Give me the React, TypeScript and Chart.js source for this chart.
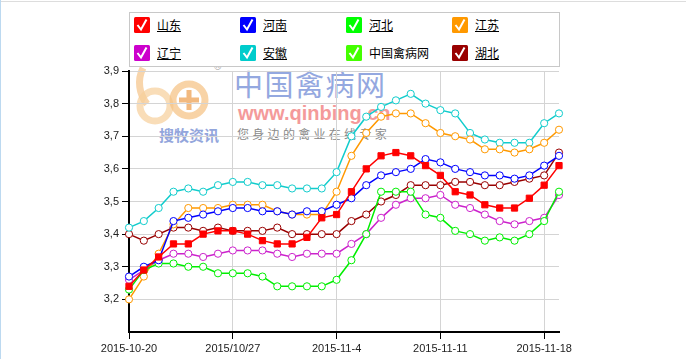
import React, { useEffect, useRef } from 'react';
import { Chart, registerables } from 'chart.js';
Chart.register(...registerables);

const categories = [
  '2015-10-20', '2015-10-21', '2015-10-22', '2015-10-23', '2015-10-24', '2015-10-25', '2015-10-26', '2015/10/27',
  '2015-10-28', '2015-10-29', '2015-10-30', '2015-10-31', '2015-11-2', '2015-11-3', '2015-11-4',
  '2015-11-5', '2015-11-6', '2015-11-7', '2015-11-8', '2015-11-9', '2015-11-10', '2015-11-11',
  '2015-11-12', '2015-11-13', '2015-11-14', '2015-11-15', '2015-11-16', '2015-11-17', '2015-11-18', '2015-11-19',
];
const labelStep = 7;

const shandong = [3.24, 3.29, 3.33, 3.37, 3.37, 3.40, 3.41, 3.41, 3.40, 3.38, 3.37, 3.37, 3.39, 3.45, 3.46, 3.53, 3.60, 3.64, 3.65, 3.64, 3.61, 3.58, 3.53, 3.52, 3.49, 3.48, 3.48, 3.51, 3.55, 3.61];
const henan = [3.27, 3.30, 3.32, 3.44, 3.45, 3.46, 3.47, 3.48, 3.48, 3.47, 3.47, 3.46, 3.47, 3.47, 3.49, 3.51, 3.55, 3.58, 3.59, 3.60, 3.63, 3.62, 3.60, 3.59, 3.58, 3.58, 3.57, 3.58, 3.61, 3.64];
const hebei = [3.23, 3.29, 3.31, 3.31, 3.30, 3.30, 3.28, 3.28, 3.28, 3.27, 3.24, 3.24, 3.24, 3.24, 3.26, 3.32, 3.40, 3.53, 3.53, 3.53, 3.46, 3.45, 3.41, 3.40, 3.38, 3.39, 3.38, 3.40, 3.44, 3.53];
const jiangsu = [3.20, 3.27, 3.34, 3.43, 3.48, 3.48, 3.48, 3.49, 3.49, 3.49, 3.47, 3.46, 3.46, 3.46, 3.53, 3.64, 3.71, 3.76, 3.77, 3.77, 3.74, 3.71, 3.70, 3.69, 3.66, 3.66, 3.65, 3.66, 3.68, 3.72];
const liaoning = [3.26, 3.29, 3.32, 3.34, 3.34, 3.33, 3.34, 3.35, 3.35, 3.35, 3.34, 3.33, 3.34, 3.34, 3.34, 3.37, 3.40, 3.45, 3.49, 3.51, 3.51, 3.52, 3.49, 3.48, 3.46, 3.44, 3.43, 3.44, 3.45, 3.52];
const anhui = [3.42, 3.44, 3.48, 3.53, 3.54, 3.53, 3.55, 3.56, 3.56, 3.55, 3.55, 3.54, 3.54, 3.54, 3.59, 3.70, 3.76, 3.79, 3.81, 3.83, 3.80, 3.78, 3.77, 3.71, 3.69, 3.68, 3.68, 3.68, 3.74, 3.77];
const qinbingwang: number[] = [];
const hubei = [3.40, 3.38, 3.40, 3.42, 3.42, 3.41, 3.42, 3.41, 3.41, 3.41, 3.42, 3.40, 3.40, 3.40, 3.40, 3.44, 3.46, 3.50, 3.52, 3.55, 3.55, 3.55, 3.56, 3.56, 3.55, 3.55, 3.56, 3.57, 3.58, 3.65];

const yMin = 3.1;
const yMax = 3.9;
const yStep = 0.1;

const series = [
  { name: '山东', data: shandong, color: '#ff0000', square: true },
  { name: '河南', data: henan, color: '#0000ff', square: false },
  { name: '河北', data: hebei, color: '#00ee00', square: false },
  { name: '江苏', data: jiangsu, color: '#ff9900', square: false },
  { name: '辽宁', data: liaoning, color: '#cc22cc', square: false },
  { name: '安徽', data: anhui, color: '#11cccc', square: false },
  { name: '中国禽病网', data: qinbingwang, color: '#44ff00', square: false },
  { name: '湖北', data: hubei, color: '#990000', square: false },
];
const legendColors = ['#ff0000', '#0000ff', '#00ff00', '#ff9900', '#cc00cc', '#00cccc', '#44ff00', '#990000'];

const tickFont = { family: '"Liberation Sans", Arial, sans-serif', size: 11 };

function CheckIcon({ color }: { color: string }) {
  return (
    <svg width="16" height="16" viewBox="0 0 16 16" style={{ display: 'block' }}>
      <rect x="0" y="0" width="16" height="16" rx="1.5" fill={color} />
      <path d="M3.5 8 L7 12.5 L12.5 2.5" stroke="#fff" strokeWidth="2" fill="none" />
    </svg>
  );
}

export default function App() {
  const ref = useRef<HTMLCanvasElement>(null);

  useEffect(() => {
    if (!ref.current) return;
    const chart = new Chart(ref.current, {
      type: 'line',
      data: {
        labels: categories,
        datasets: series.map((s) => ({
          label: s.name,
          data: s.data,
          borderColor: s.color,
          backgroundColor: s.square ? s.color : '#ffffff',
          pointBackgroundColor: s.square ? s.color : '#ffffff',
          pointBorderColor: s.color,
          pointBorderWidth: 1,
          pointStyle: s.square ? 'rect' : 'circle',
          pointRadius: s.square ? 4.4 : 3.6,
          borderWidth: 1.5,
          tension: 0,
          fill: false,
          clip: false as any,
        })),
      },
      options: {
        responsive: false,
        animation: false,
        devicePixelRatio: 1,
        layout: { padding: { left: 0, top: 71, right: 127, bottom: 0 } },
        plugins: { legend: { display: false }, tooltip: { enabled: false } },
        events: [],
        scales: {
          x: {
            type: 'category',
            offset: false,
            border: { color: '#000', width: 2 },
            grid: {
              color: (c: any) => (c.index % labelStep === 0 ? '#d4d4d4' : 'rgba(0,0,0,0)'),
              tickColor: (c: any) => (c.index % labelStep === 0 ? '#000' : 'rgba(0,0,0,0)'),
              tickLength: 7,
              lineWidth: 1,
            },
            ticks: {
              autoSkip: false,
              maxRotation: 0,
              minRotation: 0,
              padding: 3,
              color: '#222',
              font: tickFont,
              callback: (_v: any, i: number) => (i % labelStep === 0 ? categories[i] : ''),
            },
            afterFit: (s: any) => {
              s.height = 27;
            },
          },
          y: {
            min: yMin,
            max: yMax,
            border: { color: '#000', width: 2 },
            grid: {
              color: '#d4d4d4',
              tickColor: (c: any) => (c.index === 0 ? 'rgba(0,0,0,0)' : '#000'),
              tickLength: 7,
              lineWidth: 1,
            },
            ticks: {
              stepSize: yStep,
              padding: 3,
              color: '#222',
              font: tickFont,
              callback: (v: any) => (Number(v) < yMin + 0.05 ? '' : Number(v).toFixed(1).replace('.', ',')),
            },
            afterFit: (s: any) => {
              s.width = 129;
            },
          },
        },
      },
    });
    return () => chart.destroy();
  }, []);

  const cjk = '"Noto Sans CJK SC", "Noto Sans", sans-serif';
  const colX = [134, 240, 346, 452];
  const rowY = [17, 45];

  return (
    <div style={{ position: 'absolute', left: 0, top: 0, width: 686, height: 359, background: '#fff', overflow: 'hidden' }}>
      <div style={{ position: 'absolute', left: 0, top: 1, width: 686, height: 1, background: '#dddddd' }} />
      <div style={{ position: 'absolute', left: 0, top: 0, width: 1, height: 359, background: '#bcd9f0' }} />

      {/* watermark */}
      <svg width="110" height="75" style={{ position: 'absolute', left: 125, top: 60 }}>
        <path d="M18 8 C12 20 14 34 22 44" stroke="#f6c78f" strokeWidth="7" fill="none" opacity="0.75" />
        <circle cx="30" cy="46" r="15" stroke="#f7cf9a" strokeWidth="7" fill="none" opacity="0.7" />
        <circle cx="64" cy="40" r="16" stroke="#f5c080" strokeWidth="7" fill="none" opacity="0.7" />
        <path d="M64 30 L64 50 M54 40 L74 40" stroke="#f0a860" strokeWidth="5" opacity="0.8" />
      </svg>
      <div style={{ position: 'absolute', left: 214, top: 61, fontSize: 10, color: '#aaa', fontFamily: tickFont.family }}>®</div>
      <div style={{ position: 'absolute', left: 159, top: 127, fontSize: 15, fontWeight: 700, color: '#93a6dc', fontFamily: cjk, lineHeight: 1, whiteSpace: 'nowrap' }}>搜牧资讯</div>
      <div style={{ position: 'absolute', left: 234, top: 69, fontSize: 29, color: '#94a8e0', fontFamily: cjk, lineHeight: 1, letterSpacing: 1.5, whiteSpace: 'nowrap' }}>中国禽病网</div>
      <div style={{ position: 'absolute', left: 238, top: 103, fontSize: 20, fontWeight: 700, color: '#f49a9a', fontFamily: '"Liberation Sans", Arial, sans-serif', lineHeight: 1, whiteSpace: 'nowrap' }}>www.qinbing.cn</div>
      <div style={{ position: 'absolute', left: 237, top: 128, fontSize: 12, color: '#8a8a8a', fontFamily: cjk, lineHeight: 1, letterSpacing: 3.3, whiteSpace: 'nowrap' }}>您身边的禽业在线专家</div>

      <canvas ref={ref} width={686} height={359} style={{ position: 'absolute', left: 0, top: 0, width: 686, height: 359 }} />

      {/* legend */}
      <div style={{ position: 'absolute', left: 129, top: 12, width: 431, height: 55, border: '1px solid #c8c8c8', boxSizing: 'border-box', background: '#fff' }} />
      {series.map((s, i) => {
        const col = i % 4;
        const row = Math.floor(i / 4);
        return (
          <div key={s.name} style={{ position: 'absolute', left: colX[col], top: rowY[row], height: 16, display: 'flex', alignItems: 'center', whiteSpace: 'nowrap' }}>
            <CheckIcon color={legendColors[i]} />
            <span style={{ marginLeft: 7, fontSize: 12, fontFamily: cjk, color: '#000', textDecoration: i === 6 ? 'none' : 'underline', lineHeight: '16px' }}>{s.name}</span>
          </div>
        );
      })}
    </div>
  );
}
